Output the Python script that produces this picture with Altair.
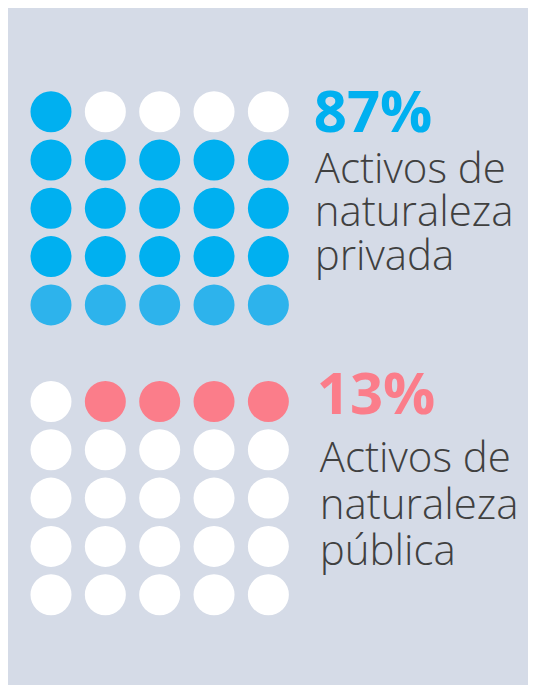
import altair as alt
import pandas as pd

# ---- data ----
categories = ["privada", "pública"]
percentages = [87, 13]
dots_per_category = [21, 4]          # out of a 5 x 5 grid (25 dots)
label_lines = [["Activos de", "naturaleza", "privada"],
               ["Activos de", "naturaleza", "pública"]]
grid_size = 5

# ---- styles ----
BG = "#d5dbe7"
TEXT = "#404040"
state_domain = ["privada", "privada_b", "pública", "vacío"]
state_range = ["#00b0f0", "#2db3ec", "#fb7d8a", "#ffffff"]
FONT = "Open Sans"
panel_style = [
    dict(pdx=-9, pdy=20, ldx=-8, ldy=23, lh=43.5),
    dict(pdx=-6, pdy=13, ldx=-3, ldy=22.5, lh=46.5),
]

# ---- tables built from the arrays ----
dot_rows = []
for g, cat in enumerate(categories):
    for r in range(grid_size):
        for c in range(grid_size):
            k = (grid_size - 1 - r) * grid_size + c
            is_private = k < dots_per_category[0]
            if g == 0:
                state = "privada" if is_private else "vacío"
                if state == "privada" and r == grid_size - 1:
                    state = "privada_b"
            else:
                state = "pública" if not is_private else "vacío"
            dot_rows.append(dict(grid=g, col=c, row=r + (grid_size + 1) * g, state=state))
dots = pd.DataFrame(dot_rows)

labels = pd.DataFrame({
    "grid": [0, 1],
    "col": [grid_size, grid_size],
    "prow": [(grid_size + 1) * g for g in range(2)],
    "lrow": [(grid_size + 1) * g + 1 for g in range(2)],
    "pct": [f"{p}%" for p in percentages],
    "lines": ["\n".join(l) for l in label_lines],
    "state": categories,
})

xs = alt.Scale(domain=[-0.791, 8.777], nice=False, zero=False)
ys = alt.Scale(domain=[-2.147, 11.87], nice=False, zero=False, reverse=True)
cs = alt.Scale(domain=state_domain, range=state_range)

dots_layer = alt.Chart(dots).mark_circle(size=1681, opacity=1).encode(
    x=alt.X("col:Q", scale=xs, axis=None),
    y=alt.Y("row:Q", scale=ys, axis=None),
    color=alt.Color("state:N", scale=cs, legend=None),
)

layers = [dots_layer]
for g, st in enumerate(panel_style):
    base = alt.Chart(labels).transform_filter(alt.datum.grid == g)
    layers.append(
        base.mark_text(align="left", baseline="alphabetic", font=FONT,
                       fontWeight="bold", fontSize=58, dx=st["pdx"], dy=st["pdy"]).encode(
            x=alt.X("col:Q", scale=xs, axis=None),
            y=alt.Y("prow:Q", scale=ys, axis=None),
            text="pct:N",
            color=alt.Color("state:N", scale=cs, legend=None),
        )
    )
    layers.append(
        base.mark_text(align="left", baseline="alphabetic", font=FONT,
                       fontWeight=300, fontSize=42, lineBreak="\n", lineHeight=st["lh"],
                       dx=st["ldx"], dy=st["ldy"], color=TEXT).encode(
            x=alt.X("col:Q", scale=xs, axis=None),
            y=alt.Y("lrow:Q", scale=ys, axis=None),
            text="lines:N",
        )
    )

chart = alt.layer(*layers).properties(
    width=520, height=677, padding=0, autosize=alt.AutoSizeParams(type="none"),
    background=BG,
).configure_view(stroke=None, fill=BG)

chart.save("out.html", embed_options={"renderer": "svg", "actions": False})
